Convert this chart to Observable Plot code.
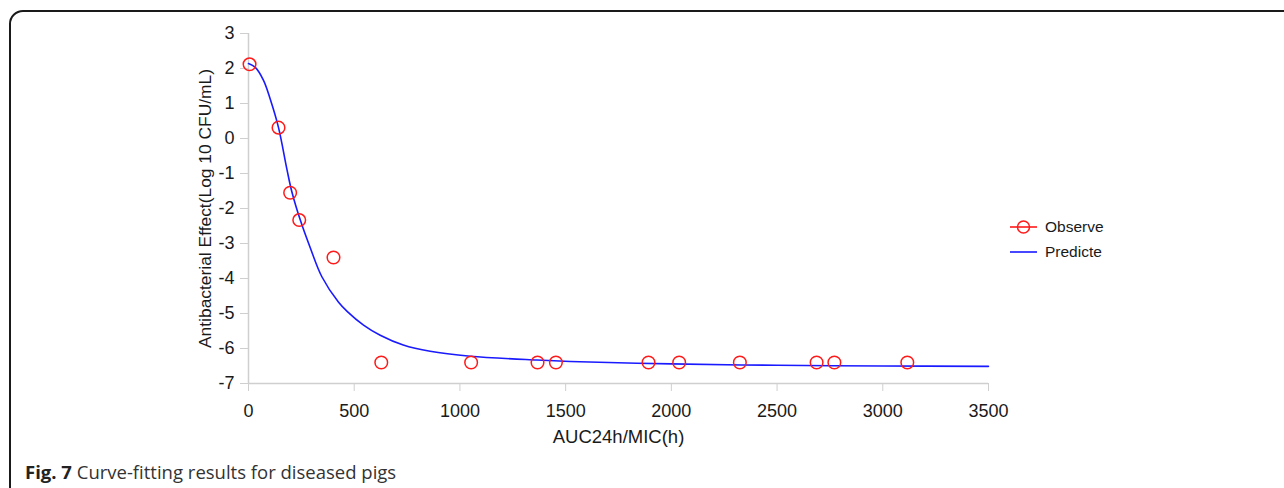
<!DOCTYPE html>
<html>
<head>
<meta charset="utf-8">
<script src="https://cdn.jsdelivr.net/npm/d3@7"></script>
<script src="https://cdn.jsdelivr.net/npm/@observablehq/plot@0.6"></script>
<style>
  html, body { margin: 0; padding: 0; background: #fff; }
  body { width: 1284px; height: 488px; position: relative; overflow: hidden; font-family: "Liberation Sans", Arial, sans-serif; }
  #frame { position: absolute; left: 9px; top: 10px; width: 1400px; height: 600px; border: 2px solid #1a1a1a; border-top-left-radius: 14px; box-sizing: border-box; }
  #chart { position: absolute; left: 0; top: 0; }
  #legend { position: absolute; left: 1009px; top: 215px; font-family: "Liberation Sans", Arial, sans-serif; font-size: 15.5px; color: #1a1a1a; }
  #legend .row { display: flex; align-items: center; height: 24.5px; }
  #legend svg { margin-right: 8px; }
  #caption { position: absolute; left: 25px; top: 459px; font-family: "Open Sans", sans-serif; font-size: 18.5px; color: #333; white-space: nowrap; }
  #caption b { color: #222; }
</style>
</head>
<body>
<div id="frame"></div>
<div id="chart"></div>
<div id="legend"></div>
<div id="caption"><b>Fig. 7</b> Curve-fitting results for diseased pigs</div>
<script>
// Observed points
const obsX = [5, 142, 197, 240, 402, 628, 1053, 1367, 1454, 1892, 2037, 2324, 2687, 2771, 3116];
const obsY = [2.12, 0.31, -1.55, -2.33, -3.40, -6.40, -6.40, -6.40, -6.40, -6.40, -6.40, -6.40, -6.40, -6.40, -6.40];

// Predicted curve
const predX = [0, 32, 71, 103, 142, 182, 205, 245, 292, 347, 426, 465, 544, 623, 732, 859, 1049, 1364, 1522, 2000, 2500, 3000, 3500];
const predY = [2.14, 2.03, 1.66, 1.12, 0.31, -0.89, -1.52, -2.33, -3.12, -3.95, -4.68, -4.93, -5.33, -5.62, -5.90, -6.08, -6.22, -6.33, -6.37, -6.44, -6.48, -6.50, -6.51];

const xTicks = [0, 500, 1000, 1500, 2000, 2500, 3000, 3500];
const yTicks = [3, 2, 1, 0, -1, -2, -3, -4, -5, -6, -7];

const xLabel = "AUC24h/MIC(h)";
const yLabel = "Antibacterial Effect(Log 10 CFU/mL)";
const seriesNames = ["Observe", "Predicte"];
const seriesColors = ["#ff1a1a", "#1a1aff"];

const obs = obsX.map((x, i) => ({x, y: obsY[i]}));
const pred = predX.map((x, i) => ({x, y: predY[i]}));

const chart = Plot.plot({
  width: 1284,
  height: 488,
  marginLeft: 248,
  marginRight: 296,
  marginTop: 33,
  marginBottom: 105,
  style: {fontFamily: "'Liberation Sans', Arial, sans-serif", background: "transparent"},
  x: {domain: [0, 3500]},
  y: {domain: [-7, 3]},
  marks: [
    Plot.axisX({ticks: xTicks, tickSize: 8, tickPadding: 13, stroke: "#cfcfcf", fill: "#1a1a1a", fontSize: 18, label: null, tickFormat: d => String(d)}),
    Plot.axisY({ticks: yTicks, tickSize: 8, tickPadding: 6, stroke: "#cfcfcf", fill: "#1a1a1a", fontSize: 18, label: null, tickFormat: d => String(d)}),
    Plot.ruleX([0], {stroke: "#cfcfcf", strokeWidth: 1.5}),
    Plot.ruleY([-7], {stroke: "#cfcfcf", strokeWidth: 1.5}),
    Plot.line(pred, {x: "x", y: "y", stroke: seriesColors[1], strokeWidth: 1.6, curve: "catmull-rom"}),
    Plot.dot(obs, {x: "x", y: "y", r: 6.3, stroke: seriesColors[0], strokeWidth: 1.5, fill: "none"}),
    Plot.text([xLabel], {frameAnchor: "bottom", dy: 54, text: d => d, fontSize: 18.5, fill: "#1a1a1a", lineAnchor: "middle", textAnchor: "middle"}),
    Plot.text([yLabel], {frameAnchor: "left", dx: -43, rotate: -90, text: d => d, fontSize: 17.4, fill: "#1a1a1a", textAnchor: "middle", lineAnchor: "middle"})
  ]
});
document.getElementById("chart").appendChild(chart);

// Legend
const legend = document.getElementById("legend");
seriesNames.forEach((name, i) => {
  const row = document.createElement("div");
  row.className = "row";
  const icon = d3.create("svg").attr("width", 28).attr("height", 16);
  icon.append("line").attr("x1", 1).attr("x2", 28).attr("y1", 8).attr("y2", 8)
    .attr("stroke", seriesColors[i]).attr("stroke-width", 1.6);
  if (i === 0) {
    icon.append("circle").attr("cx", 14.5).attr("cy", 8).attr("r", 6).attr("fill", "none")
      .attr("stroke", seriesColors[i]).attr("stroke-width", 1.5);
  }
  row.appendChild(icon.node());
  const t = document.createElement("span");
  t.textContent = name;
  row.appendChild(t);
  legend.appendChild(row);
});
</script>
</body>
</html>
